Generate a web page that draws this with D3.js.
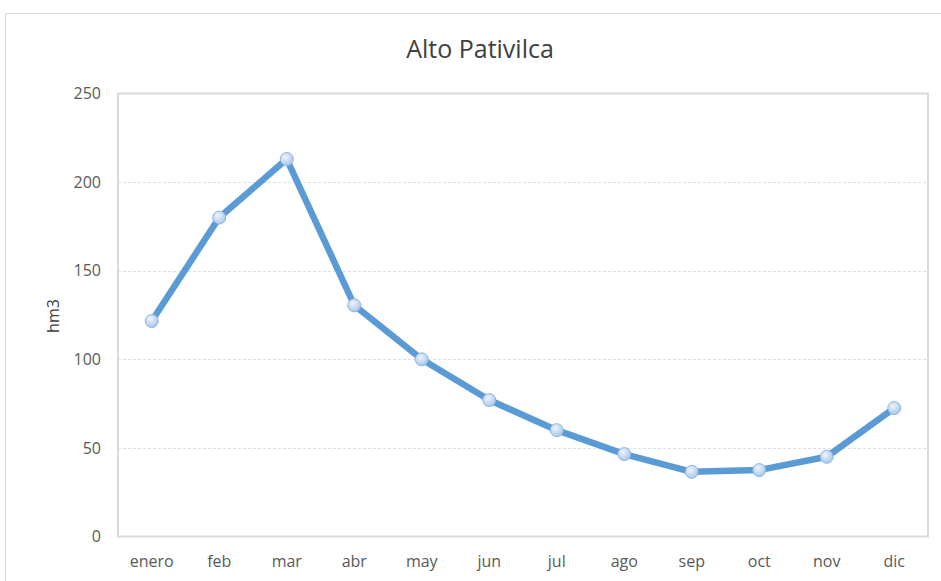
<!DOCTYPE html>
<html lang="es">
<head>
<meta charset="UTF-8">
<title>Alto Pativilca</title>
<script src="https://d3js.org/d3.v7.min.js"></script>
<style>
  body { margin: 0; background: #fff; }
  svg text { font-family: "Open Sans", "Noto Sans", sans-serif; fill: #595959; }
</style>
</head>
<body>
<div id="chart"></div>
<script>
// data
var months = ["enero", "feb", "mar", "abr", "may", "jun", "jul", "ago", "sep", "oct", "nov", "dic"];
var volumes = [121.6, 180, 213, 130.5, 100, 77, 60, 46.5, 36.5, 37.5, 45, 72.5];
var yTicks = [0, 50, 100, 150, 200, 250];

var width = 941, height = 581;
var margin = { top: 93.5, right: 13, bottom: 44.5, left: 118 };

var svg = d3.select("#chart").append("svg")
    .attr("width", width)
    .attr("height", height);

// outer chart frame
svg.append("rect")
    .attr("x", 5.5).attr("y", 13.5)
    .attr("width", 945).attr("height", 600)
    .attr("fill", "none")
    .attr("stroke", "#d9d9d9");

var x = d3.scaleBand()
    .domain(months)
    .range([margin.left, width - margin.right])
    .padding(0);

var y = d3.scaleLinear()
    .domain([0, 250])
    .range([height - margin.bottom, margin.top]);

// gridlines
svg.append("g")
    .selectAll("line")
    .data(yTicks.filter(function(t) { return t > 0 && t < 250; }))
    .enter().append("line")
    .attr("x1", margin.left).attr("x2", width - margin.right)
    .attr("y1", function(d) { return Math.round(y(d)) + 0.5; })
    .attr("y2", function(d) { return Math.round(y(d)) + 0.5; })
    .attr("stroke", "#d2e2f3")
    .attr("stroke-dasharray", "3,2");

// plot frame
svg.append("rect")
    .attr("x", margin.left).attr("y", y(250))
    .attr("width", width - margin.right - margin.left)
    .attr("height", y(0) - y(250))
    .attr("fill", "none")
    .attr("stroke", "#d9d9d9")
    .attr("stroke-width", 2);

// y axis labels
var yAxis = d3.axisLeft(y).tickValues(yTicks).tickSize(0).tickPadding(17);
var gy = svg.append("g")
    .attr("transform", "translate(" + margin.left + ",0)")
    .call(yAxis);
gy.select(".domain").remove();
gy.selectAll("text").style("font-size", "16px");

// x axis labels
var xAxis = d3.axisBottom(x).tickSize(0).tickPadding(19);
var gx = svg.append("g")
    .attr("transform", "translate(0," + y(0) + ")")
    .call(xAxis);
gx.select(".domain").remove();
gx.selectAll("text").style("font-size", "16px");

// title
svg.append("text")
    .attr("x", 480).attr("y", 58)
    .attr("text-anchor", "middle")
    .style("font-size", "25px")
    .style("fill", "#404040")
    .text("Alto Pativilca");

// y axis title
svg.append("text")
    .attr("transform", "translate(59,316) rotate(-90)")
    .attr("text-anchor", "middle")
    .style("font-size", "16px")
    .style("fill", "#404040")
    .text("hm3");

// marker gradient
var grad = svg.append("defs").append("radialGradient")
    .attr("id", "mk")
    .attr("cx", "40%").attr("cy", "35%").attr("r", "65%");
grad.append("stop").attr("offset", "0%").attr("stop-color", "#eef4fb");
grad.append("stop").attr("offset", "100%").attr("stop-color", "#a9c8ea");

var line = d3.line()
    .x(function(d, i) { return x(months[i]) + x.bandwidth() / 2; })
    .y(function(d) { return y(d); });

svg.append("path")
    .datum(volumes)
    .attr("d", line)
    .attr("fill", "none")
    .attr("stroke", "#5b9bd5")
    .attr("stroke-width", 6.5)
    .attr("stroke-linejoin", "round");

svg.append("g")
    .selectAll("circle")
    .data(volumes)
    .enter().append("circle")
    .attr("cx", function(d, i) { return x(months[i]) + x.bandwidth() / 2; })
    .attr("cy", function(d) { return y(d); })
    .attr("r", 6.5)
    .attr("fill", "url(#mk)")
    .attr("stroke", "#8cb6e3")
    .attr("stroke-width", 1);
</script>
</body>
</html>
